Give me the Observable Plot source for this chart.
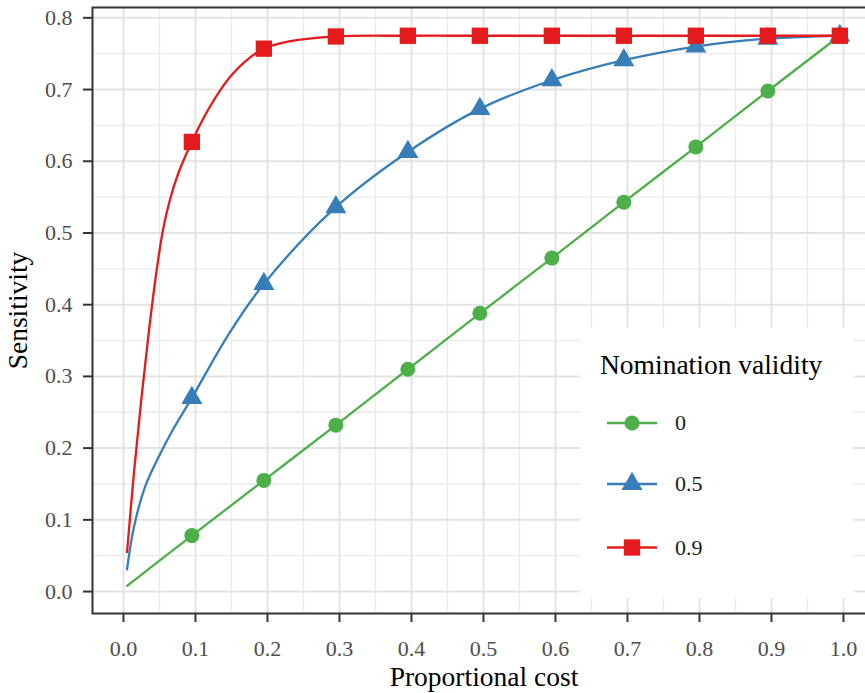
<!DOCTYPE html>
<html><head><meta charset="utf-8">
<script src="https://cdn.jsdelivr.net/npm/d3@7"></script>
<script src="https://cdn.jsdelivr.net/npm/@observablehq/plot@0.6"></script>
<style>
body{margin:0;background:#fff;overflow:hidden}
#wrap{position:relative;width:865px;height:693px;overflow:hidden;background:#fff}
#wrap > svg{max-width:none !important}
#legend{position:absolute;left:580px;top:328px}
</style></head><body><div id="wrap"></div>
<script>
// ---- data ----
const seriesNames = ["0", "0.5", "0.9"];
const seriesColors = ["#4daf4a", "#377eb8", "#e41a1c"];
const seriesSymbols = ["circle", "triangle", "square"];
const legendTitle = "Nomination validity";
const xTitle = "Proportional cost";
const yTitle = "Sensitivity";

const xTicks = [0, 0.1, 0.2, 0.3, 0.4, 0.5, 0.6, 0.7, 0.8, 0.9, 1.0];
const xMinorTicks = [0.05, 0.15, 0.25, 0.35, 0.45, 0.55, 0.65, 0.75, 0.85, 0.95];
const yTicks = [0, 0.1, 0.2, 0.3, 0.4, 0.5, 0.6, 0.7, 0.8];
const yMinorTicks = [0.05, 0.15, 0.25, 0.35, 0.45, 0.55, 0.65, 0.75];

// marker positions
const markerCost = [0.095, 0.195, 0.295, 0.395, 0.495, 0.595, 0.695, 0.795, 0.895, 0.995];
const markerSens0 = [0.078, 0.155, 0.232, 0.310, 0.388, 0.465, 0.543, 0.620, 0.698, 0.775];
const markerSens05 = [0.270, 0.429, 0.536, 0.613, 0.673, 0.713, 0.741, 0.760, 0.771, 0.775];
const markerSens09 = [0.627, 0.757, 0.774, 0.775, 0.775, 0.775, 0.775, 0.775, 0.775, 0.775];

// line points
const lineCost0 = [0.005, 0.095, 0.195, 0.295, 0.395, 0.495, 0.595, 0.695, 0.795, 0.895, 0.995];
const lineSens0 = [0.008, 0.078, 0.155, 0.232, 0.310, 0.388, 0.465, 0.543, 0.620, 0.698, 0.775];
const lineCost05 = [0.005, 0.015, 0.03, 0.05, 0.07, 0.095, 0.145, 0.195, 0.295, 0.395, 0.495, 0.595, 0.695, 0.795, 0.895, 0.995];
const lineSens05 = [0.031, 0.092, 0.146, 0.190, 0.228, 0.270, 0.357, 0.429, 0.536, 0.613, 0.673, 0.713, 0.741, 0.760, 0.771, 0.775];
const lineCost09 = [0.005, 0.015, 0.025, 0.035, 0.045, 0.055, 0.065, 0.075, 0.085, 0.095, 0.105, 0.12, 0.135, 0.15, 0.17, 0.195, 0.23, 0.295, 0.395, 0.495, 0.595, 0.695, 0.795, 0.895, 0.995];
const lineSens09 = [0.055, 0.170, 0.270, 0.360, 0.440, 0.505, 0.548, 0.580, 0.605, 0.627, 0.648, 0.676, 0.700, 0.720, 0.740, 0.757, 0.767, 0.774, 0.775, 0.775, 0.775, 0.775, 0.775, 0.775, 0.775];

// ---- styles ----
const markerR = {"circle": 7.5, "triangle": 7.8, "square": 9.2};
const FONT = "'Liberation Serif', 'Times New Roman', serif";

// ---- tables ----
const lineCosts = [lineCost0, lineCost05, lineCost09];
const lineSens = [lineSens0, lineSens05, lineSens09];
const markerSens = [markerSens0, markerSens05, markerSens09];
const lineRows = seriesNames.flatMap((s, i) => lineCosts[i].map((x, j) => ({x, y: lineSens[i][j], s})));
const markerRows = seriesNames.map((s, i) => markerCost.map((x, j) => ({x, y: markerSens[i][j], s})));

const chart = Plot.plot({
  width: 875, height: 693,
  marginLeft: 92, marginRight: 0, marginTop: 7, marginBottom: 80,
  x: {domain: [-0.043, 1.0445]},
  y: {domain: [-0.0306, 0.8144]},
  color: {domain: seriesNames, range: seriesColors},
  symbol: {domain: seriesNames, range: seriesSymbols},
  style: {fontFamily: FONT, fontSize: "22px", background: "#fff", overflow: "visible", maxWidth: "none"},
  marks: [
    Plot.ruleX(xMinorTicks, {stroke: "#ebebeb", strokeWidth: 1.3}),
    Plot.ruleY(yMinorTicks, {stroke: "#ebebeb", strokeWidth: 1.3}),
    Plot.ruleX(xTicks, {stroke: "#e3e3e3", strokeWidth: 2}),
    Plot.ruleY(yTicks, {stroke: "#e3e3e3", strokeWidth: 2}),
    Plot.line(lineRows, {x: "x", y: "y", z: "s", stroke: "s", strokeWidth: 2.3, curve: "catmull-rom"}),
    ...markerRows.map((rows, i) => Plot.dot(rows, {x: "x", y: "y", fill: "s", symbol: "s", r: markerR[seriesSymbols[i]], stroke: "none"})),
    Plot.frame({stroke: "#333", strokeWidth: 2}),
    Plot.axisX({ticks: xTicks, tickFormat: d3.format(".1f"), tickSize: 9, tickPadding: 18, stroke: "#333", strokeWidth: 2, fill: "#4d4d4d", label: null}),
    Plot.axisY({ticks: yTicks, tickFormat: d3.format(".1f"), tickSize: 9, tickPadding: 11, stroke: "#333", strokeWidth: 2, fill: "#4d4d4d", label: null}),
    Plot.text([xTitle], {text: d => d, frameAnchor: "bottom", lineAnchor: "middle", textAnchor: "middle", dy: 64, fontSize: 27.5, fill: "#000"}),
    Plot.text([yTitle], {text: d => d, frameAnchor: "left", lineAnchor: "middle", textAnchor: "middle", dx: -74, rotate: -90, fontSize: 27.5, fill: "#000"})
  ]
});
chart.style.maxWidth = "none";
const wrap = document.getElementById("wrap");
wrap.appendChild(chart);

// ---- legend ----
const lg = d3.create("svg").attr("id", "legend").attr("width", 273).attr("height", 270)
  .style("font-family", FONT);
lg.append("rect").attr("width", 273).attr("height", 270).attr("fill", "#fff");
lg.append("text").attr("x", 20).attr("y", 46).attr("font-size", 27.5).attr("fill", "#000").text(legendTitle);
const rowY = [95, 156, 219.5];
seriesNames.forEach((s, i) => {
  const g = lg.append("g").attr("transform", `translate(0,${rowY[i]})`);
  g.append("line").attr("x1", 27).attr("x2", 77).attr("stroke", seriesColors[i]).attr("stroke-width", 2.3);
  const sym = {circle: d3.symbolCircle, triangle: d3.symbolTriangle, square: d3.symbolSquare}[seriesSymbols[i]];
  const r = markerR[seriesSymbols[i]];
  g.append("path").attr("transform", "translate(52,0)").attr("d", d3.symbol(sym, r * r * Math.PI)()).attr("fill", seriesColors[i]);
  g.append("text").attr("x", 95).attr("dy", "0.32em").attr("font-size", 22).attr("fill", "#1a1a1a").text(s);
});
wrap.appendChild(lg.node());
</script></body></html>
